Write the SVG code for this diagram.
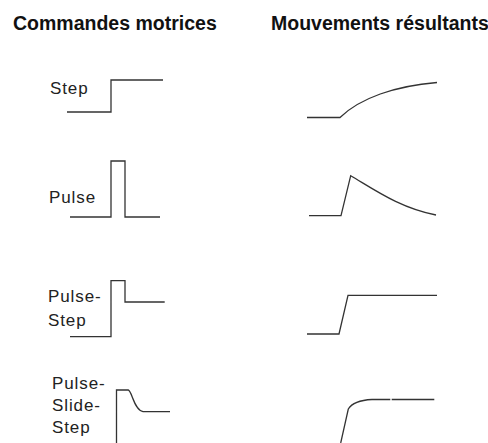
<svg xmlns="http://www.w3.org/2000/svg" width="488" height="443" viewBox="0 0 488 443">
<style>
.title{font-family:"Liberation Sans",Arial,sans-serif;font-weight:bold;font-size:19.5px;fill:#111}
.lbl{font-family:"Liberation Sans",Arial,sans-serif;font-size:17px;letter-spacing:0.9px;fill:#222}
.sig{fill:none;stroke:#333;stroke-width:1.3;stroke-linejoin:miter}
</style>
<rect width="488" height="443" fill="#fff"/>
<g id="titles">
<text class="title" x="13" y="29.5">Commandes motrices</text>
<text class="title" x="271" y="29.5">Mouvements résultants</text>
</g>
<g id="step">
<text class="lbl" x="50" y="94">Step</text>
<path class="sig" d="M67,112 H111 V80 H163"/>
</g>
<g id="pulse">
<text class="lbl" x="49" y="203">Pulse</text>
<path class="sig" d="M70,217 H111 V161 H125 V217 H160"/>
</g>
<g id="pulse-step">
<text class="lbl" x="48" y="302">Pulse-</text>
<text class="lbl" x="48" y="325.5">Step</text>
<path class="sig" d="M70,336.7 H111 V280.7 H125 V302 H164.7"/>
</g>
<g id="pulse-slide-step">
<text class="lbl" x="52" y="388.5">Pulse-</text>
<text class="lbl" x="52" y="410.5">Slide-</text>
<text class="lbl" x="52" y="432.5">Step</text>
<path class="sig" d="M116.5,443 V390 H128.3 C132,391 134,410 143,411.7 H170"/>
</g>
<g id="connectors">
<path class="sig" d="M307,117.5 H340 C360,98 395,86 437,82.5"/>
<path class="sig" d="M309,215.7 H341 L350.7,175.7 C375,190 400,208 436,215"/>
<path class="sig" d="M307,334 H339 L348,295.3 H437"/>
<path class="sig" d="M340.7,443 L348.3,409 C352,403 362,400 372,399.5 H390.3 M391.7,399.5 H434.3"/>
</g>
</svg>
